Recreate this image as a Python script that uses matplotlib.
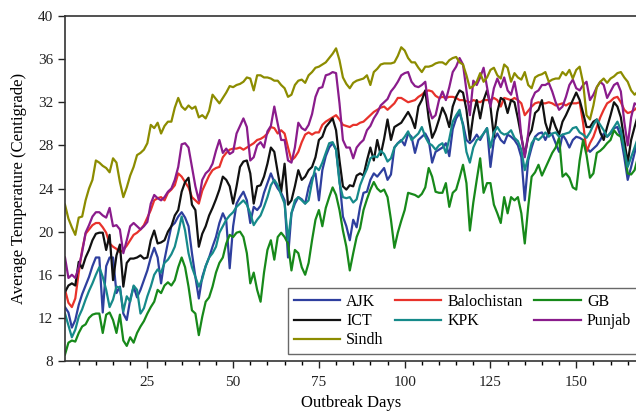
import numpy as np
import matplotlib
matplotlib.use("Agg")
import matplotlib.pyplot as plt

plt.rcParams['font.family'] = ['Liberation Serif', 'DejaVu Serif']

x_label = "Outbreak Days"
y_label = "Average Temperature (Centigrade)"
x_ticks = [25, 50, 75, 100, 125, 150]
y_ticks = [8, 12, 16, 20, 24, 28, 32, 36, 40]

ajk = [13.0, 12.5, 11.1, 11.8, 13.2, 14.2, 15.0, 15.8, 16.8, 17.6,
       17.6, 12.5, 16.8, 17.6, 17.6, 14.3, 14.9, 12.4, 11.8, 13.7,
       14.9, 13.9, 14.6, 15.5, 16.4, 17.6, 18.5, 17.6, 15.2, 17.4,
       19.0, 20.5, 20.8, 21.4, 21.8, 21.3, 20.5, 18.0, 15.8, 13.8,
       15.8, 16.8, 17.6, 18.6, 19.5, 20.8, 21.7, 21.0, 16.6, 20.5,
       22.6, 23.2, 23.7, 22.9, 20.8, 22.3, 22.0,
       22.4, 23.6, 24.5, 25.4, 24.6, 24.0, 23.6, 22.9, 17.6, 21.7,
       22.6, 23.2, 23.0, 22.6, 24.1, 25.0, 25.4, 22.9, 25.7, 27.0,
       27.8, 28.2, 27.6, 24.8, 21.4, 20.5, 19.2, 21.1, 20.4, 22.3,
       23.6, 23.7, 24.8, 25.4, 25.1, 25.5, 25.9, 24.8, 25.3, 27.8,
       28.2, 28.5, 28.0, 29.1, 28.8, 27.3, 28.5, 28.8, 29.1, 28.5,
       26.4, 27.4, 27.6, 27.8, 28.2, 27.0,
       29.5, 30.5, 31.0, 30.0, 28.5, 28.2, 28.5, 29.0, 28.5, 29.1,
       29.6, 26.0, 28.5, 29.1, 28.5, 28.2, 29.0,
       28.8, 28.5, 28.0, 26.9, 22.9, 26.6, 27.8, 28.8, 29.1, 29.2,
       28.5, 29.2, 29.0, 28.2, 27.4, 29.0, 28.5, 27.8, 28.5, 28.8,
       28.7, 28.5, 27.8, 27.4, 27.7, 28.0, 28.5, 29.1, 28.8, 29.1,
       29.6, 29.7, 28.8, 26.9, 24.8, 26.0, 27.3, 28.5]

balochistan = [14.6, 13.4, 13.0, 13.8, 16.2, 18.3, 19.8, 20.2, 20.6, 20.8,
               20.8, 20.4, 19.9, 18.9, 18.6, 18.4, 18.1, 18.3, 18.7, 19.2,
               19.7, 19.9, 20.2, 20.6, 21.3, 22.0, 22.9, 23.1, 23.2, 22.9,
               23.6, 23.9, 24.3, 25.4, 25.1, 24.6, 24.1, 23.2, 22.9, 22.6,
               23.8, 24.5, 25.2, 25.7, 25.9, 26.0, 26.9, 27.3, 27.6, 27.7,
               27.7, 27.8, 27.6, 27.8, 28.0, 28.2, 28.5, 28.6, 28.8, 29.1,
               29.7, 29.6, 29.1, 29.4, 29.1, 27.8, 26.6, 26.9, 27.4, 28.3,
               29.0, 29.2, 29.0, 29.2, 29.2, 29.9, 30.2, 30.4, 30.6, 30.8,
               30.4, 29.9, 29.8, 29.7, 29.9, 29.9, 30.1, 30.2, 30.5, 30.8,
               31.1, 31.3, 31.5, 31.6, 31.3, 31.6, 31.9, 32.4, 32.4, 32.2,
               32.0, 32.1, 32.2, 32.5, 32.7, 33.0, 33.1, 33.0, 32.6, 32.4,
               32.5, 32.4, 32.5, 32.5, 32.4, 32.2, 32.2, 32.1, 32.0, 32.2,
               32.1, 32.0, 32.2, 32.2, 32.2, 32.4, 32.2, 31.6, 32.4, 32.3,
               32.2, 32.4, 32.2, 31.9, 30.8, 31.2, 31.6, 31.9, 32.0, 31.9,
               31.9, 32.0, 31.9, 31.7, 31.8, 31.9, 31.7, 31.9, 31.9, 31.9,
               32.0, 30.1, 27.4, 28.2, 28.8, 29.7, 30.6, 31.3, 31.9, 32.1,
               32.4, 32.5, 32.0, 31.3, 31.0, 31.1, 31.3, 31.6]

gb = [8.6, 9.7, 9.9, 9.8, 10.6, 11.2, 11.4, 12.0, 12.3, 12.4,
      12.4, 10.6, 12.3, 12.5, 11.8, 10.6, 12.3, 9.9, 9.4, 10.2,
      9.7, 10.6, 11.2, 11.7, 12.4, 13.0, 13.5, 14.6, 14.3, 15.0,
      15.3, 15.0, 15.5, 16.7, 17.6, 16.7, 14.9, 12.7, 12.4, 10.4,
      12.1, 13.5, 13.9, 14.9, 16.2, 17.1, 17.6, 18.9, 19.7, 19.5,
      19.9, 20.0, 19.5, 18.0, 15.2, 16.2, 14.6, 13.5, 16.2, 18.3,
      19.2, 17.4, 19.5, 19.9, 19.5, 18.9, 16.4, 18.3, 18.0, 16.7,
      16.0, 17.1, 19.2, 21.1, 22.0, 20.5, 22.2, 23.2, 24.1, 23.4,
      22.0, 20.1, 18.6, 16.4, 18.0, 19.5, 20.3, 22.0, 23.0, 23.9,
      24.6, 24.0, 23.7, 23.9, 23.2, 21.1, 18.5, 19.9, 21.0, 22.0,
      23.6, 23.5, 23.4, 23.2, 23.5, 24.1, 25.9, 25.1, 23.7, 23.6,
      23.6, 24.5, 22.3, 23.6, 23.9, 25.0, 26.2, 24.5, 20.1, 22.7,
      24.8, 26.8, 23.6, 24.5, 24.5,
      22.5, 21.7, 20.8, 23.2, 21.7, 23.2, 22.9, 23.2, 21.7, 18.9,
      22.3, 25.1, 25.5, 26.2, 25.2, 25.9, 26.6, 27.3, 27.8, 28.7,
      25.1, 25.4, 25.0, 24.1, 23.9, 26.6, 28.5, 27.1, 25.0, 25.4,
      27.3, 27.5, 27.8, 28.2, 28.5, 29.4, 29.0, 28.8, 27.8, 25.4,
      25.3, 25.7, 26.9]

ict = [14.4, 15.0, 15.2, 15.0, 17.2, 16.6, 17.6, 18.3, 19.2, 19.8,
       19.9, 19.9, 18.3, 19.7, 15.5, 17.8, 18.8, 14.9, 17.1, 17.5,
       17.5, 17.6, 17.8, 17.5, 17.6, 19.2, 20.1, 18.9, 19.0, 19.2,
       20.0, 20.5, 21.5, 22.0, 23.7, 24.6, 25.0, 22.5, 22.0, 18.6,
       19.8, 20.5, 21.5, 22.2, 23.0, 23.9, 25.1, 24.8, 24.2, 22.6,
       24.2, 26.0, 26.5, 26.6, 25.4, 22.6, 24.2, 24.3, 25.1, 26.3,
       27.8, 27.4, 25.5, 23.7, 26.3, 22.5, 22.9, 24.2, 25.7, 24.8,
       25.1, 25.7, 26.0, 26.9, 28.5, 28.8, 29.7, 30.1, 30.5, 29.4,
       26.6, 24.2, 23.9, 24.3, 24.2, 25.2, 25.4, 25.2, 26.6, 27.8,
       26.6, 28.5, 27.1, 28.6, 30.4, 28.5, 29.7, 29.9, 30.1, 30.6,
       31.1, 30.5, 29.6, 31.6, 32.2, 33.1, 30.5, 28.7, 29.4, 30.4,
       31.5, 30.8, 29.7, 31.6, 32.5, 33.1, 32.9, 31.3, 28.5, 30.8,
       32.2, 30.5, 32.2, 33.1, 31.6, 28.8, 31.1, 32.4, 32.2, 31.0,
       32.2, 32.0, 30.5, 28.8, 27.1, 28.8, 29.4, 31.0, 31.3, 32.2,
       30.1, 29.1, 30.6, 29.7, 29.0, 30.2, 30.8, 31.5, 32.2, 32.9,
       32.2, 31.0, 29.7, 29.7, 30.2, 30.4, 29.2, 28.5, 29.7, 30.8,
       32.0, 31.6, 30.6, 28.5, 26.4, 28.5, 29.7, 30.8]

kpk = [12.4, 11.3, 10.2, 10.9, 12.1, 12.8, 13.7, 14.5, 15.2, 16.0,
       16.7, 15.8, 14.6, 13.0, 13.7, 14.9, 14.8, 12.6, 14.0, 13.5,
       15.0, 14.6, 12.4, 12.9, 14.0, 14.9, 16.0, 16.5, 16.2, 17.1,
       17.4, 17.9, 18.6, 19.9, 21.4, 20.1, 18.0, 16.7, 15.8, 14.9,
       15.6, 16.8, 17.6, 18.0, 18.6, 19.9, 20.5, 21.1, 21.5, 21.8,
       22.3, 22.6, 22.9, 22.5, 21.7, 20.6, 21.1, 21.5, 22.3, 23.2,
       24.3, 24.8, 24.3, 23.4, 22.6, 19.2, 21.7, 22.9, 23.2, 22.9,
       22.6, 22.9, 24.6, 26.0, 25.7, 26.4, 27.3, 28.2, 28.3, 27.6,
       24.5, 23.2, 23.1, 23.2, 22.7, 23.0, 24.3, 25.1, 25.8, 26.8,
       27.0, 26.9, 27.5, 27.2, 26.5, 26.8, 27.8, 28.2, 28.4, 28.8,
       29.3, 28.5, 28.8, 29.1, 29.7, 28.8, 28.2, 28.0, 27.6, 28.0,
       28.2, 27.3, 28.6,
       30.2, 30.8, 31.3, 29.8, 27.4, 26.4, 27.8, 28.5, 28.7, 29.1,
       29.6, 27.8, 29.2, 29.7, 29.2, 29.0, 29.1, 29.4, 28.7, 28.4,
       27.6, 25.7, 26.9, 28.2, 28.7, 28.5, 28.8, 29.2, 28.8, 29.1,
       29.2, 28.8, 29.0, 29.1, 29.2, 29.6, 29.7, 29.2, 29.0, 28.7,
       29.2, 29.9, 30.4, 29.9, 29.4, 28.8, 29.2, 29.7, 30.2, 29.4,
       27.6, 26.0, 26.9, 27.8, 28.7]

punjab = [17.6, 15.7, 16.0, 15.7, 16.7, 18.1, 19.9, 20.6, 21.4, 21.8,
          21.8, 21.5, 21.3, 22.2, 20.5, 20.6, 20.2, 18.0, 19.2, 20.5,
          20.8, 20.5, 20.2, 20.5, 20.9, 22.6, 23.4, 23.1, 22.9, 23.2,
          23.7, 24.0, 24.8, 26.0, 28.1, 28.2, 27.8, 26.0, 24.2, 22.9,
          24.8, 25.4, 25.7, 26.3, 27.5, 28.5, 27.3, 27.7, 27.2, 27.4,
          29.1, 29.8, 30.5, 29.7, 26.6, 26.9, 28.0, 28.3, 27.8, 29.3,
          29.8, 31.6, 30.0, 28.5, 28.5, 26.6, 26.4, 27.8, 30.1, 29.6,
          29.4, 29.9, 30.9, 32.5, 33.3, 33.4, 34.5, 34.6, 34.8, 34.7,
          31.9, 28.5, 27.8, 27.8, 26.8, 27.8, 28.2, 28.5, 29.4, 29.8,
          30.5, 31.0, 31.7, 32.0, 32.3, 33.0, 33.4, 33.9, 34.5, 34.7,
          34.8, 33.9, 33.5, 33.4, 33.6, 33.9, 31.5, 30.5, 30.8, 32.2,
          33.0, 32.2, 33.4, 34.8, 35.3, 36.1, 35.5, 33.1, 30.8, 34.0,
          33.6, 34.3, 35.2, 33.4, 31.6, 33.3, 34.2, 33.4, 34.3, 33.1,
          32.7, 33.9, 32.2, 28.8, 26.9, 29.1, 32.2, 32.9, 33.1, 33.6,
          33.6, 33.8, 33.0, 32.0, 31.3, 31.6, 32.5, 33.6, 34.1, 33.3,
          33.1, 33.6, 33.9, 32.2, 32.7, 33.4, 33.9, 33.6, 32.4, 33.0,
          33.6, 33.8, 33.0, 30.2, 28.0, 30.6, 31.9, 31.7]

sindh = [22.5, 21.2, 20.4, 19.7, 21.3, 21.4, 22.9, 24.0, 24.8, 26.6,
         26.4, 26.1, 25.9, 25.5, 26.8, 26.4, 24.6, 23.2, 24.1, 25.2,
         26.0, 27.1, 27.3, 27.6, 28.2, 29.9, 29.6, 30.1, 29.1, 29.8,
         30.2, 30.2, 31.5, 32.4, 31.6, 31.3, 31.7, 31.4, 31.6, 30.6,
         30.8, 30.5, 31.2, 32.7, 32.3, 31.9, 32.4, 32.9, 33.5, 33.4,
         33.6, 33.7, 33.9, 34.3, 34.2, 33.1, 34.5, 34.5, 34.3, 34.3,
         34.2, 34.0, 34.0, 33.6, 33.3, 32.5, 32.7, 33.6, 34.0, 34.1,
         33.8, 34.5, 34.8, 35.2, 35.3, 35.5, 35.7, 36.1, 36.5, 37.0,
         35.9, 34.3, 33.7, 33.3, 33.8, 34.0, 34.1, 34.2, 34.5, 33.6,
         34.8, 35.1, 35.5, 35.6, 35.6, 35.6, 35.7, 36.3, 37.1, 36.8,
         36.1, 35.7, 35.7, 35.2, 34.8, 35.3, 35.3, 35.4, 35.6, 35.7,
         35.7, 35.5, 35.9, 36.1, 36.2, 35.7, 35.5, 34.5, 33.3, 33.5,
         33.9, 34.7, 33.9, 34.3, 35.0, 35.2, 34.5, 34.2, 35.5, 35.2,
         33.9, 34.7, 34.3, 34.1, 34.8, 33.6, 33.3, 34.3, 34.5, 34.6,
         34.8, 33.9, 34.1, 34.2, 34.2, 34.8, 34.5, 35.0, 34.2, 35.0,
         35.3, 33.8, 30.8, 30.4, 31.7, 33.4, 33.9, 34.2, 33.8, 34.2,
         34.4, 34.7, 34.8, 34.3, 33.9, 33.1, 32.7, 33.0]

series = [("AJK", ajk, "#2e3f9e"),
          ("Balochistan", balochistan, "#e8322b"),
          ("GB", gb, "#17891a"),
          ("ICT", ict, "#111111"),
          ("KPK", kpk, "#168a8a"),
          ("Punjab", punjab, "#8a1c8c"),
          ("Sindh", sindh, "#8c8c00")]

fig = plt.figure(figsize=(6.36, 4.13), dpi=100)
ax = fig.add_axes([65/636, 1 - 361/413, 573/636, 345/413])

handles = {}
for name, vals, col in series:
    days = np.arange(1, len(vals) + 1)
    h, = ax.plot(days, vals, color=col, lw=1.6, label=name)
    handles[name] = h

ax.set_xlim(1, 168)
ax.set_ylim(8, 40)
ax.set_xticks(x_ticks)
ax.set_xticks(np.arange(5, 169, 5), minor=True)
ax.set_yticks(y_ticks)
ax.tick_params(axis='both', which='major', direction='out', length=5, width=1,
               labelsize=11, colors='#222222')
ax.tick_params(axis='x', which='minor', direction='out', length=3, width=1)
ax.tick_params(axis='x', pad=6)
for s in ['left', 'bottom', 'top']:
    ax.spines[s].set_linewidth(1.2)
    ax.spines[s].set_color('#333333')
ax.spines['right'].set_visible(False)

ax.set_xlabel(x_label, fontsize=12, labelpad=4)
ax.set_ylabel(y_label, fontsize=12, labelpad=8)

order = ["AJK", "ICT", "Sindh", "Balochistan", "KPK", "GB", "Punjab"]
x0 = (288 - 65) / 573
y0 = (361 - 354) / 345
leg = ax.legend([handles[n] for n in order], order, ncol=3, loc='lower left',
                bbox_to_anchor=(x0, y0),
                fontsize=11.5, handlelength=2.9,
                frameon=True, fancybox=False, borderaxespad=0,
                columnspacing=0.7, handletextpad=0.4, labelspacing=0.2,
                borderpad=0.35)
leg.get_frame().set_edgecolor('#444444')
leg.get_frame().set_linewidth(1.0)

fig.savefig("out.png", dpi=100)
